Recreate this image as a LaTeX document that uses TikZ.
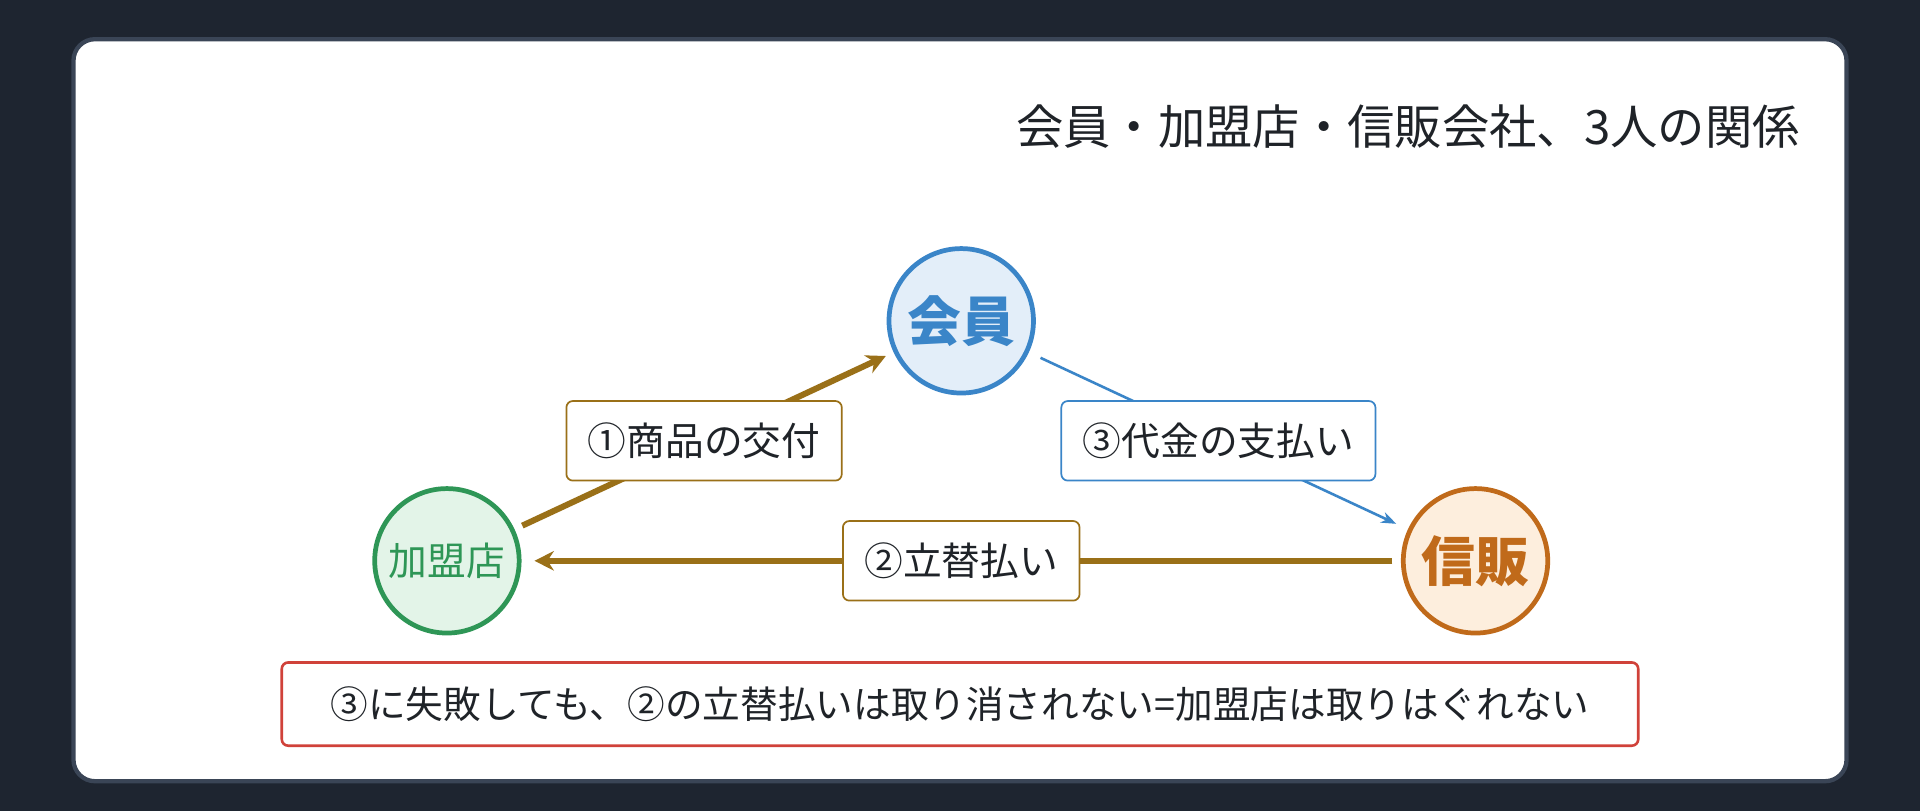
\documentclass[tikz,border=0pt]{standalone}
\usepackage{fontspec}
\setmainfont{Noto Sans CJK JP}
\usetikzlibrary{arrows.meta,positioning}
\definecolor{bgdark}{HTML}{1E2530}
\definecolor{cardline}{HTML}{3A4556}
\definecolor{txt}{HTML}{1F2328}
\definecolor{kblue}{HTML}{3A85C8}
\definecolor{kbluef}{HTML}{E3EEF9}
\definecolor{kgreen}{HTML}{2E9656}
\definecolor{kgreenf}{HTML}{E3F4E8}
\definecolor{korange}{HTML}{C06A1A}
\definecolor{korangef}{HTML}{FDEEDD}
\definecolor{kbrown}{HTML}{9A7018}
\definecolor{kred}{HTML}{D0423A}
\tikzset{
  party/.style={circle, line width=2.2pt, minimum size=2.36cm, inner sep=0pt},
  tag/.style={draw, rounded corners=3pt, fill=white, line width=0.8pt, text=txt,
    font=\fontsize{18}{20}\selectfont, inner xsep=10pt, minimum height=1.3cm},
  flow/.style={kbrown, line width=2.8pt, -{Stealth[length=9pt,width=9pt]}}
}
\begin{document}
\begin{tikzpicture}[x=0.02cm,y=-0.02cm]

    \fill [bgdark] (0,0) rectangle (1568,662);
    \draw [cardline, line width=2pt, fill=white, rounded corners=10pt] (60,32) rectangle (1508,638);

    \node [anchor=east, text=txt, font=\fontsize{22}{24}\selectfont] (title) at (1476,103)
        {会員・加盟店・信販会社、3人の関係};

    \node [party, draw=kblue, fill=kbluef, text=kblue, font=\fontsize{25}{27}\selectfont\bfseries] (member) at (785,262) {会員};
    \node [party, draw=kgreen, fill=kgreenf, text=kgreen, font=\fontsize{18}{20}\selectfont] (shop) at (365,458) {加盟店};
    \node [party, draw=korange, fill=korangef, text=korange, font=\fontsize{25}{27}\selectfont\bfseries] (credit) at (1205,458) {信販};

	\draw [flow, shorten <=4pt, shorten >=4pt] (shop) -- (member)
	    node [tag, draw=kbrown, pos=0.5] (goods) {①商品の交付};
	\draw [flow, shorten <=4pt, shorten >=6pt] (credit) -- (shop)
	    node [tag, draw=kbrown, pos=0.5] (advance) {②立替払い};
	\draw [kblue, line width=1.2pt, -{Stealth[length=7pt]}, shorten <=6pt, shorten >=6pt] (member) -- (credit)
	    node [tag, draw=kblue, pos=0.5] (payment) {③代金の支払い};

    \node [tag, draw=kred, line width=1.2pt, minimum width=22.16cm, minimum height=1.36cm,
        font=\fontsize{17.5}{19}\selectfont] (note) at (784,575)
        {③に失敗しても、②の立替払いは取り消されない=加盟店は取りはぐれない};

\end{tikzpicture}
\end{document}
